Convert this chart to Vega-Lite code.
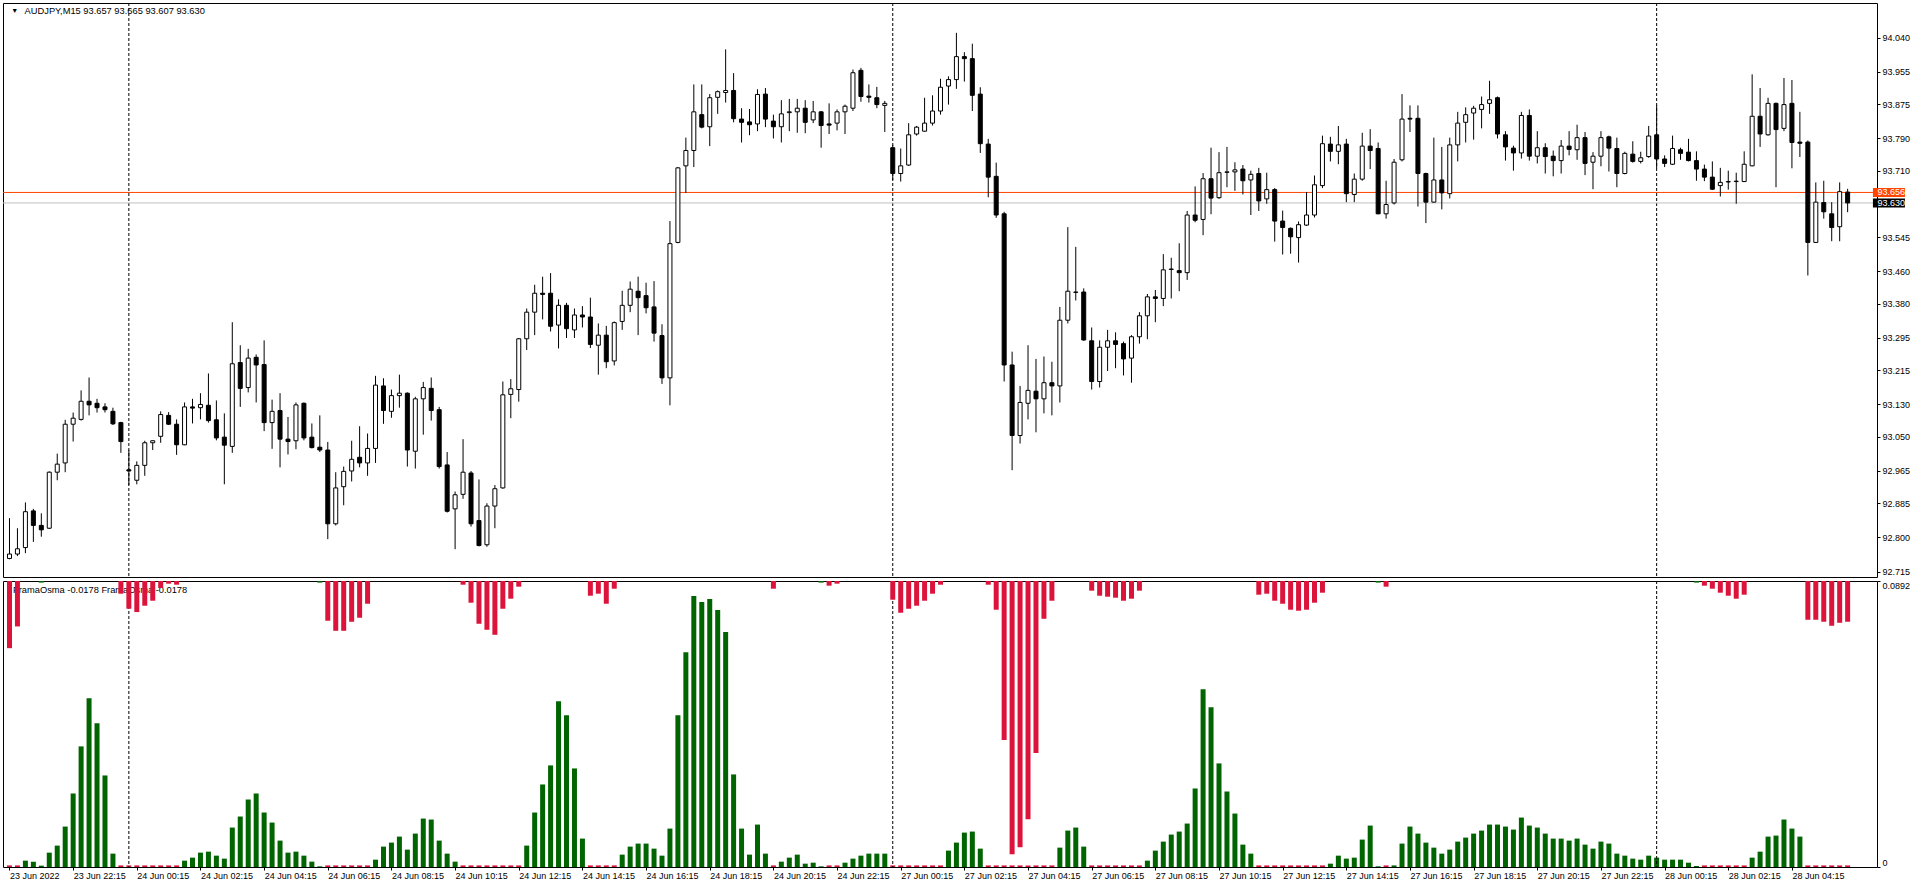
{
"$schema":"https://vega.github.io/schema/vega-lite/v6.json",
"padding":{"left":2,"top":2,"right":0,"bottom":0},
"background":"white",
"spacing":2,
"config":{"view":{"stroke":"#000","strokeWidth":1},"font":"Liberation Sans","axis":{"labelFont":"Liberation Sans","labelColor":"#000","tickColor":"#000","labelOverlap":false,"labelBound":false},"text":{"font":"Liberation Sans"},"tick":{"opacity":1}},
"datasets":{
"seps":[{"i":15},{"i":111},{"i":207}],
"lines":[{"p":93.656,"k":"ask"},{"p":93.630,"k":"bid"}],
"bars":[
{"i":0,"o":92.748,"h":92.848,"l":92.746,"c":92.759,"g":0,"dn":0.02095},
{"i":1,"o":92.759,"h":92.823,"l":92.754,"c":92.772,"g":0,"dn":0.01417},
{"i":2,"o":92.775,"h":92.887,"l":92.761,"c":92.864,"g":0.00198,"dn":0},
{"i":3,"o":92.866,"h":92.871,"l":92.789,"c":92.830,"g":0.00167,"dn":0},
{"i":4,"o":92.830,"h":92.860,"l":92.802,"c":92.819,"g":0.00042,"dn":0},
{"i":5,"o":92.823,"h":92.964,"l":92.821,"c":92.962,"g":0.00448,"dn":0},
{"i":6,"o":92.962,"h":93.008,"l":92.942,"c":92.982,"g":0.00667,"dn":0},
{"i":7,"o":92.985,"h":93.092,"l":92.962,"c":93.081,"g":0.01261,"dn":0},
{"i":8,"o":93.081,"h":93.110,"l":93.038,"c":93.096,"g":0.02293,"dn":0},
{"i":9,"o":93.093,"h":93.165,"l":93.090,"c":93.138,"g":0.03762,"dn":0},
{"i":10,"o":93.138,"h":93.197,"l":93.103,"c":93.129,"g":0.05263,"dn":0},
{"i":11,"o":93.133,"h":93.144,"l":93.110,"c":93.122,"g":0.04481,"dn":0},
{"i":12,"o":93.124,"h":93.133,"l":93.110,"c":93.117,"g":0.02855,"dn":0},
{"i":13,"o":93.113,"h":93.122,"l":93.079,"c":93.082,"g":0.00417,"dn":0},
{"i":14,"o":93.085,"h":93.087,"l":93.010,"c":93.038,"g":0,"dn":0.00396},
{"i":15,"o":92.968,"h":93.017,"l":92.930,"c":92.965,"g":0,"dn":0.00865},
{"i":16,"o":92.942,"h":92.989,"l":92.932,"c":92.979,"g":0,"dn":0.00969},
{"i":17,"o":92.979,"h":93.040,"l":92.953,"c":93.035,"g":0,"dn":0.00771},
{"i":18,"o":93.035,"h":93.041,"l":93.017,"c":93.040,"g":0,"dn":0.00615},
{"i":19,"o":93.051,"h":93.113,"l":93.035,"c":93.105,"g":0,"dn":0.00219},
{"i":20,"o":93.103,"h":93.111,"l":93.079,"c":93.081,"g":0,"dn":0.00083},
{"i":21,"o":93.081,"h":93.093,"l":93.005,"c":93.030,"g":0,"dn":0.00115},
{"i":22,"o":93.030,"h":93.135,"l":93.029,"c":93.124,"g":0.00198,"dn":0},
{"i":23,"o":93.124,"h":93.144,"l":93.083,"c":93.121,"g":0.00292,"dn":0},
{"i":24,"o":93.122,"h":93.158,"l":93.093,"c":93.130,"g":0.00448,"dn":0},
{"i":25,"o":93.128,"h":93.207,"l":93.085,"c":93.090,"g":0.00479,"dn":0},
{"i":26,"o":93.092,"h":93.140,"l":93.041,"c":93.047,"g":0.00354,"dn":0},
{"i":27,"o":93.049,"h":93.108,"l":92.932,"c":93.029,"g":0.00261,"dn":0},
{"i":28,"o":93.026,"h":93.334,"l":93.010,"c":93.231,"g":0.0123,"dn":0},
{"i":29,"o":93.234,"h":93.277,"l":93.124,"c":93.170,"g":0.01574,"dn":0},
{"i":30,"o":93.172,"h":93.268,"l":93.160,"c":93.245,"g":0.02105,"dn":0},
{"i":31,"o":93.247,"h":93.254,"l":93.135,"c":93.228,"g":0.02293,"dn":0},
{"i":32,"o":93.229,"h":93.289,"l":93.064,"c":93.085,"g":0.01699,"dn":0},
{"i":33,"o":93.085,"h":93.142,"l":93.020,"c":93.113,"g":0.01386,"dn":0},
{"i":34,"o":93.115,"h":93.158,"l":92.974,"c":93.044,"g":0.00823,"dn":0},
{"i":35,"o":93.044,"h":93.099,"l":93.006,"c":93.038,"g":0.00448,"dn":0},
{"i":36,"o":93.040,"h":93.135,"l":93.019,"c":93.129,"g":0.00479,"dn":0},
{"i":37,"o":93.133,"h":93.135,"l":93.041,"c":93.047,"g":0.00354,"dn":0},
{"i":38,"o":93.049,"h":93.083,"l":93.021,"c":93.023,"g":0.00167,"dn":0},
{"i":39,"o":93.024,"h":93.103,"l":93.012,"c":93.017,"g":0.00021,"dn":0},
{"i":40,"o":93.017,"h":93.037,"l":92.796,"c":92.834,"g":0,"dn":0.0124},
{"i":41,"o":92.834,"h":92.962,"l":92.830,"c":92.923,"g":0,"dn":0.01553},
{"i":42,"o":92.926,"h":92.976,"l":92.880,"c":92.964,"g":0,"dn":0.01553},
{"i":43,"o":92.965,"h":93.040,"l":92.939,"c":92.994,"g":0,"dn":0.01271},
{"i":44,"o":92.999,"h":93.076,"l":92.974,"c":92.985,"g":0,"dn":0.01146},
{"i":45,"o":92.985,"h":93.058,"l":92.953,"c":93.021,"g":0,"dn":0.00709},
{"i":46,"o":93.021,"h":93.201,"l":92.985,"c":93.178,"g":0.00229,"dn":0},
{"i":47,"o":93.176,"h":93.195,"l":93.082,"c":93.115,"g":0.00636,"dn":0},
{"i":48,"o":93.113,"h":93.167,"l":93.097,"c":93.152,"g":0.00761,"dn":0},
{"i":49,"o":93.152,"h":93.204,"l":93.122,"c":93.158,"g":0.00948,"dn":0},
{"i":50,"o":93.158,"h":93.160,"l":92.976,"c":93.017,"g":0.00542,"dn":0},
{"i":51,"o":93.014,"h":93.149,"l":92.971,"c":93.144,"g":0.01042,"dn":0},
{"i":52,"o":93.144,"h":93.186,"l":93.055,"c":93.172,"g":0.01511,"dn":0},
{"i":53,"o":93.170,"h":93.197,"l":93.090,"c":93.115,"g":0.0148,"dn":0},
{"i":54,"o":93.117,"h":93.124,"l":92.971,"c":92.976,"g":0.00823,"dn":0},
{"i":55,"o":92.980,"h":93.012,"l":92.862,"c":92.865,"g":0.00417,"dn":0},
{"i":56,"o":92.871,"h":92.914,"l":92.771,"c":92.906,"g":0.00167,"dn":0},
{"i":57,"o":92.907,"h":93.044,"l":92.896,"c":92.962,"g":0,"dn":0.00115},
{"i":58,"o":92.960,"h":92.965,"l":92.827,"c":92.834,"g":0,"dn":0.00677},
{"i":59,"o":92.842,"h":92.944,"l":92.778,"c":92.780,"g":0,"dn":0.01334},
{"i":60,"o":92.782,"h":92.885,"l":92.777,"c":92.878,"g":0,"dn":0.01521},
{"i":61,"o":92.878,"h":92.930,"l":92.823,"c":92.921,"g":0,"dn":0.01678},
{"i":62,"o":92.923,"h":93.187,"l":92.921,"c":93.154,"g":0,"dn":0.00865},
{"i":63,"o":93.155,"h":93.193,"l":93.096,"c":93.169,"g":0,"dn":0.00552},
{"i":64,"o":93.167,"h":93.295,"l":93.137,"c":93.293,"g":0,"dn":0.00177},
{"i":65,"o":93.293,"h":93.368,"l":93.265,"c":93.359,"g":0.00667,"dn":0},
{"i":66,"o":93.359,"h":93.427,"l":93.302,"c":93.406,"g":0.01699,"dn":0},
{"i":67,"o":93.406,"h":93.447,"l":93.341,"c":93.403,"g":0.02574,"dn":0},
{"i":68,"o":93.406,"h":93.456,"l":93.311,"c":93.324,"g":0.03168,"dn":0},
{"i":69,"o":93.327,"h":93.391,"l":93.269,"c":93.376,"g":0.05169,"dn":0},
{"i":70,"o":93.376,"h":93.382,"l":93.295,"c":93.318,"g":0.04731,"dn":0},
{"i":71,"o":93.315,"h":93.368,"l":93.295,"c":93.352,"g":0.03074,"dn":0},
{"i":72,"o":93.352,"h":93.374,"l":93.321,"c":93.347,"g":0.00886,"dn":0},
{"i":73,"o":93.347,"h":93.395,"l":93.270,"c":93.279,"g":0,"dn":0.00459},
{"i":74,"o":93.277,"h":93.331,"l":93.204,"c":93.302,"g":0,"dn":0.00396},
{"i":75,"o":93.302,"h":93.325,"l":93.220,"c":93.236,"g":0,"dn":0.00709},
{"i":76,"o":93.238,"h":93.336,"l":93.227,"c":93.333,"g":0,"dn":0.0024},
{"i":77,"o":93.336,"h":93.412,"l":93.315,"c":93.376,"g":0.00386,"dn":0},
{"i":78,"o":93.376,"h":93.435,"l":93.359,"c":93.416,"g":0.00636,"dn":0},
{"i":79,"o":93.411,"h":93.447,"l":93.302,"c":93.395,"g":0.0073,"dn":0},
{"i":80,"o":93.400,"h":93.432,"l":93.356,"c":93.370,"g":0.0073,"dn":0},
{"i":81,"o":93.372,"h":93.436,"l":93.286,"c":93.307,"g":0.00573,"dn":0},
{"i":82,"o":93.301,"h":93.329,"l":93.181,"c":93.196,"g":0.00354,"dn":0},
{"i":83,"o":93.196,"h":93.585,"l":93.128,"c":93.529,"g":0.01198,"dn":0},
{"i":84,"o":93.532,"h":93.719,"l":93.530,"c":93.717,"g":0.04731,"dn":0},
{"i":85,"o":93.722,"h":93.792,"l":93.655,"c":93.760,"g":0.06701,"dn":0},
{"i":86,"o":93.760,"h":93.924,"l":93.719,"c":93.856,"g":0.08451,"dn":0},
{"i":87,"o":93.849,"h":93.924,"l":93.815,"c":93.818,"g":0.08264,"dn":0},
{"i":88,"o":93.819,"h":93.900,"l":93.771,"c":93.891,"g":0.08358,"dn":0},
{"i":89,"o":93.892,"h":93.909,"l":93.851,"c":93.906,"g":0.08014,"dn":0},
{"i":90,"o":93.904,"h":94.011,"l":93.879,"c":93.909,"g":0.07326,"dn":0},
{"i":91,"o":93.909,"h":93.952,"l":93.830,"c":93.839,"g":0.02887,"dn":0},
{"i":92,"o":93.838,"h":93.865,"l":93.780,"c":93.830,"g":0.01198,"dn":0},
{"i":93,"o":93.831,"h":93.863,"l":93.798,"c":93.824,"g":0.00386,"dn":0},
{"i":94,"o":93.826,"h":93.912,"l":93.808,"c":93.899,"g":0.01323,"dn":0},
{"i":95,"o":93.900,"h":93.915,"l":93.818,"c":93.838,"g":0.00417,"dn":0},
{"i":96,"o":93.833,"h":93.849,"l":93.790,"c":93.819,"g":0,"dn":0.0024},
{"i":97,"o":93.819,"h":93.885,"l":93.780,"c":93.851,"g":0.00167,"dn":0},
{"i":98,"o":93.854,"h":93.888,"l":93.808,"c":93.856,"g":0.00292,"dn":0},
{"i":99,"o":93.856,"h":93.888,"l":93.804,"c":93.865,"g":0.00386,"dn":0},
{"i":100,"o":93.865,"h":93.885,"l":93.803,"c":93.830,"g":0.00104,"dn":0},
{"i":101,"o":93.836,"h":93.883,"l":93.828,"c":93.856,"g":0.00135,"dn":0},
{"i":102,"o":93.856,"h":93.858,"l":93.767,"c":93.822,"g":0.00021,"dn":0},
{"i":103,"o":93.826,"h":93.877,"l":93.801,"c":93.823,"g":0,"dn":0.00146},
{"i":104,"o":93.828,"h":93.862,"l":93.810,"c":93.856,"g":0,"dn":0.00083},
{"i":105,"o":93.856,"h":93.874,"l":93.801,"c":93.870,"g":0.00135,"dn":0},
{"i":106,"o":93.865,"h":93.961,"l":93.858,"c":93.953,"g":0.00261,"dn":0},
{"i":107,"o":93.959,"h":93.965,"l":93.881,"c":93.894,"g":0.00354,"dn":0},
{"i":108,"o":93.895,"h":93.924,"l":93.879,"c":93.892,"g":0.00417,"dn":0},
{"i":109,"o":93.891,"h":93.918,"l":93.865,"c":93.874,"g":0.00417,"dn":0},
{"i":110,"o":93.872,"h":93.883,"l":93.806,"c":93.877,"g":0.00417,"dn":0},
{"i":111,"o":93.767,"h":93.774,"l":93.687,"c":93.703,"g":0,"dn":0.00584},
{"i":112,"o":93.703,"h":93.765,"l":93.683,"c":93.722,"g":0,"dn":0.0099},
{"i":113,"o":93.724,"h":93.828,"l":93.722,"c":93.799,"g":0,"dn":0.00865},
{"i":114,"o":93.801,"h":93.821,"l":93.797,"c":93.818,"g":0,"dn":0.00771},
{"i":115,"o":93.808,"h":93.891,"l":93.807,"c":93.828,"g":0,"dn":0.00615},
{"i":116,"o":93.828,"h":93.897,"l":93.822,"c":93.858,"g":0,"dn":0.00396},
{"i":117,"o":93.858,"h":93.938,"l":93.849,"c":93.917,"g":0,"dn":0.00115},
{"i":118,"o":93.920,"h":93.944,"l":93.874,"c":93.936,"g":0.00511,"dn":0},
{"i":119,"o":93.936,"h":94.052,"l":93.913,"c":93.993,"g":0.00761,"dn":0},
{"i":120,"o":93.993,"h":94.004,"l":93.931,"c":93.988,"g":0.01073,"dn":0},
{"i":121,"o":93.988,"h":94.025,"l":93.858,"c":93.897,"g":0.01105,"dn":0},
{"i":122,"o":93.900,"h":93.917,"l":93.754,"c":93.777,"g":0.00573,"dn":0},
{"i":123,"o":93.776,"h":93.789,"l":93.644,"c":93.694,"g":0,"dn":0.00115},
{"i":124,"o":93.696,"h":93.730,"l":93.593,"c":93.600,"g":0,"dn":0.00896},
{"i":125,"o":93.603,"h":93.608,"l":93.187,"c":93.228,"g":0,"dn":0.0496},
{"i":126,"o":93.228,"h":93.261,"l":92.967,"c":93.053,"g":0,"dn":0.08524},
{"i":127,"o":93.053,"h":93.176,"l":93.033,"c":93.135,"g":0,"dn":0.08306},
{"i":128,"o":93.133,"h":93.277,"l":93.093,"c":93.165,"g":0,"dn":0.0743},
{"i":129,"o":93.163,"h":93.243,"l":93.061,"c":93.144,"g":0,"dn":0.05367},
{"i":130,"o":93.144,"h":93.249,"l":93.108,"c":93.184,"g":0,"dn":0.01178},
{"i":131,"o":93.184,"h":93.236,"l":93.103,"c":93.176,"g":0,"dn":0.00615},
{"i":132,"o":93.176,"h":93.372,"l":93.135,"c":93.339,"g":0.00604,"dn":0},
{"i":133,"o":93.339,"h":93.570,"l":93.331,"c":93.411,"g":0.01136,"dn":0},
{"i":134,"o":93.408,"h":93.521,"l":93.388,"c":93.409,"g":0.0123,"dn":0},
{"i":135,"o":93.409,"h":93.418,"l":93.288,"c":93.290,"g":0.00636,"dn":0},
{"i":136,"o":93.288,"h":93.321,"l":93.167,"c":93.187,"g":0,"dn":0.00302},
{"i":137,"o":93.187,"h":93.289,"l":93.172,"c":93.272,"g":0,"dn":0.00459},
{"i":138,"o":93.272,"h":93.315,"l":93.213,"c":93.288,"g":0,"dn":0.0049},
{"i":139,"o":93.288,"h":93.309,"l":93.220,"c":93.279,"g":0,"dn":0.00521},
{"i":140,"o":93.281,"h":93.286,"l":93.202,"c":93.243,"g":0,"dn":0.00615},
{"i":141,"o":93.245,"h":93.302,"l":93.184,"c":93.298,"g":0,"dn":0.00552},
{"i":142,"o":93.298,"h":93.359,"l":93.281,"c":93.350,"g":0,"dn":0.00302},
{"i":143,"o":93.350,"h":93.404,"l":93.292,"c":93.397,"g":0.00198,"dn":0},
{"i":144,"o":93.397,"h":93.414,"l":93.334,"c":93.393,"g":0.00511,"dn":0},
{"i":145,"o":93.393,"h":93.503,"l":93.374,"c":93.464,"g":0.00792,"dn":0},
{"i":146,"o":93.465,"h":93.494,"l":93.393,"c":93.466,"g":0.01011,"dn":0},
{"i":147,"o":93.462,"h":93.530,"l":93.411,"c":93.457,"g":0.01105,"dn":0},
{"i":148,"o":93.457,"h":93.610,"l":93.439,"c":93.600,"g":0.01355,"dn":0},
{"i":149,"o":93.600,"h":93.671,"l":93.582,"c":93.587,"g":0.02449,"dn":0},
{"i":150,"o":93.589,"h":93.704,"l":93.550,"c":93.690,"g":0.05544,"dn":0},
{"i":151,"o":93.690,"h":93.767,"l":93.602,"c":93.642,"g":0.04981,"dn":0},
{"i":152,"o":93.643,"h":93.756,"l":93.640,"c":93.705,"g":0.03231,"dn":0},
{"i":153,"o":93.706,"h":93.769,"l":93.669,"c":93.707,"g":0.02355,"dn":0},
{"i":154,"o":93.707,"h":93.731,"l":93.660,"c":93.712,"g":0.01667,"dn":0},
{"i":155,"o":93.714,"h":93.724,"l":93.651,"c":93.685,"g":0.00698,"dn":0},
{"i":156,"o":93.687,"h":93.710,"l":93.600,"c":93.701,"g":0.00417,"dn":0},
{"i":157,"o":93.703,"h":93.717,"l":93.610,"c":93.635,"g":0,"dn":0.00427},
{"i":158,"o":93.640,"h":93.705,"l":93.628,"c":93.663,"g":0,"dn":0.00396},
{"i":159,"o":93.663,"h":93.667,"l":93.534,"c":93.585,"g":0,"dn":0.00615},
{"i":160,"o":93.585,"h":93.611,"l":93.502,"c":93.569,"g":0,"dn":0.00709},
{"i":161,"o":93.567,"h":93.569,"l":93.504,"c":93.546,"g":0,"dn":0.00896},
{"i":162,"o":93.544,"h":93.584,"l":93.482,"c":93.576,"g":0,"dn":0.00927},
{"i":163,"o":93.575,"h":93.657,"l":93.573,"c":93.600,"g":0,"dn":0.00896},
{"i":164,"o":93.600,"h":93.698,"l":93.594,"c":93.675,"g":0,"dn":0.00677},
{"i":165,"o":93.673,"h":93.797,"l":93.667,"c":93.777,"g":0,"dn":0.00365},
{"i":166,"o":93.776,"h":93.794,"l":93.733,"c":93.758,"g":0.00104,"dn":0},
{"i":167,"o":93.758,"h":93.821,"l":93.726,"c":93.774,"g":0.00354,"dn":0},
{"i":168,"o":93.776,"h":93.789,"l":93.632,"c":93.653,"g":0.00261,"dn":0},
{"i":169,"o":93.651,"h":93.703,"l":93.632,"c":93.689,"g":0.00292,"dn":0},
{"i":170,"o":93.689,"h":93.804,"l":93.685,"c":93.771,"g":0.00855,"dn":0},
{"i":171,"o":93.771,"h":93.813,"l":93.714,"c":93.760,"g":0.01292,"dn":0},
{"i":172,"o":93.765,"h":93.780,"l":93.602,"c":93.603,"g":0.00021,"dn":0},
{"i":173,"o":93.603,"h":93.685,"l":93.591,"c":93.626,"g":0,"dn":0.00177},
{"i":174,"o":93.630,"h":93.739,"l":93.626,"c":93.731,"g":0.0005,"dn":0},
{"i":175,"o":93.737,"h":93.900,"l":93.733,"c":93.838,"g":0.0073,"dn":0},
{"i":176,"o":93.840,"h":93.872,"l":93.806,"c":93.838,"g":0.01261,"dn":0},
{"i":177,"o":93.840,"h":93.872,"l":93.621,"c":93.703,"g":0.01042,"dn":0},
{"i":178,"o":93.703,"h":93.705,"l":93.580,"c":93.632,"g":0.00761,"dn":0},
{"i":179,"o":93.632,"h":93.792,"l":93.631,"c":93.687,"g":0.00604,"dn":0},
{"i":180,"o":93.687,"h":93.769,"l":93.614,"c":93.655,"g":0.00417,"dn":0},
{"i":181,"o":93.653,"h":93.792,"l":93.641,"c":93.774,"g":0.00542,"dn":0},
{"i":182,"o":93.774,"h":93.856,"l":93.733,"c":93.828,"g":0.00792,"dn":0},
{"i":183,"o":93.830,"h":93.867,"l":93.780,"c":93.849,"g":0.00917,"dn":0},
{"i":184,"o":93.853,"h":93.871,"l":93.787,"c":93.865,"g":0.01042,"dn":0},
{"i":185,"o":93.862,"h":93.894,"l":93.815,"c":93.874,"g":0.01136,"dn":0},
{"i":186,"o":93.877,"h":93.933,"l":93.851,"c":93.886,"g":0.01323,"dn":0},
{"i":187,"o":93.891,"h":93.894,"l":93.790,"c":93.801,"g":0.01323,"dn":0},
{"i":188,"o":93.799,"h":93.808,"l":93.735,"c":93.769,"g":0.01261,"dn":0},
{"i":189,"o":93.766,"h":93.772,"l":93.710,"c":93.754,"g":0.01167,"dn":0},
{"i":190,"o":93.754,"h":93.856,"l":93.740,"c":93.847,"g":0.01542,"dn":0},
{"i":191,"o":93.847,"h":93.862,"l":93.735,"c":93.746,"g":0.01292,"dn":0},
{"i":192,"o":93.746,"h":93.808,"l":93.728,"c":93.767,"g":0.0123,"dn":0},
{"i":193,"o":93.767,"h":93.778,"l":93.703,"c":93.745,"g":0.01042,"dn":0},
{"i":194,"o":93.746,"h":93.760,"l":93.696,"c":93.735,"g":0.00886,"dn":0},
{"i":195,"o":93.735,"h":93.786,"l":93.703,"c":93.771,"g":0.00886,"dn":0},
{"i":196,"o":93.771,"h":93.808,"l":93.748,"c":93.763,"g":0.00823,"dn":0},
{"i":197,"o":93.762,"h":93.824,"l":93.737,"c":93.792,"g":0.00886,"dn":0},
{"i":198,"o":93.792,"h":93.806,"l":93.699,"c":93.728,"g":0.00698,"dn":0},
{"i":199,"o":93.731,"h":93.756,"l":93.664,"c":93.746,"g":0.00573,"dn":0},
{"i":200,"o":93.746,"h":93.808,"l":93.721,"c":93.792,"g":0.00792,"dn":0},
{"i":201,"o":93.794,"h":93.797,"l":93.708,"c":93.766,"g":0.0073,"dn":0},
{"i":202,"o":93.765,"h":93.792,"l":93.669,"c":93.703,"g":0.00417,"dn":0},
{"i":203,"o":93.703,"h":93.757,"l":93.701,"c":93.753,"g":0.00354,"dn":0},
{"i":204,"o":93.751,"h":93.783,"l":93.730,"c":93.733,"g":0.00261,"dn":0},
{"i":205,"o":93.733,"h":93.757,"l":93.728,"c":93.742,"g":0.00229,"dn":0},
{"i":206,"o":93.745,"h":93.821,"l":93.742,"c":93.796,"g":0.00354,"dn":0},
{"i":207,"o":93.799,"h":93.872,"l":93.716,"c":93.739,"g":0.00292,"dn":0},
{"i":208,"o":93.739,"h":93.748,"l":93.719,"c":93.728,"g":0.00229,"dn":0},
{"i":209,"o":93.726,"h":93.797,"l":93.724,"c":93.765,"g":0.00229,"dn":0},
{"i":210,"o":93.762,"h":93.767,"l":93.737,"c":93.753,"g":0.00229,"dn":0},
{"i":211,"o":93.756,"h":93.789,"l":93.733,"c":93.735,"g":0.00135,"dn":0},
{"i":212,"o":93.735,"h":93.758,"l":93.685,"c":93.714,"g":0.00031,"dn":0},
{"i":213,"o":93.714,"h":93.725,"l":93.684,"c":93.694,"g":0,"dn":0.00146},
{"i":214,"o":93.694,"h":93.733,"l":93.662,"c":93.664,"g":0,"dn":0.0024},
{"i":215,"o":93.673,"h":93.717,"l":93.646,"c":93.681,"g":0,"dn":0.00365},
{"i":216,"o":93.682,"h":93.710,"l":93.663,"c":93.683,"g":0,"dn":0.00459},
{"i":217,"o":93.683,"h":93.705,"l":93.628,"c":93.684,"g":0,"dn":0.00552},
{"i":218,"o":93.683,"h":93.758,"l":93.682,"c":93.726,"g":0,"dn":0.00427},
{"i":219,"o":93.722,"h":93.949,"l":93.721,"c":93.845,"g":0.00292,"dn":0},
{"i":220,"o":93.845,"h":93.915,"l":93.769,"c":93.801,"g":0.00479,"dn":0},
{"i":221,"o":93.799,"h":93.891,"l":93.797,"c":93.877,"g":0.00948,"dn":0},
{"i":222,"o":93.877,"h":93.879,"l":93.669,"c":93.812,"g":0.0098,"dn":0},
{"i":223,"o":93.815,"h":93.940,"l":93.808,"c":93.874,"g":0.0148,"dn":0},
{"i":224,"o":93.877,"h":93.935,"l":93.716,"c":93.780,"g":0.01198,"dn":0},
{"i":225,"o":93.781,"h":93.856,"l":93.744,"c":93.778,"g":0.00948,"dn":0},
{"i":226,"o":93.781,"h":93.785,"l":93.450,"c":93.532,"g":0,"dn":0.01209},
{"i":227,"o":93.532,"h":93.681,"l":93.531,"c":93.632,"g":0,"dn":0.01209},
{"i":228,"o":93.631,"h":93.685,"l":93.591,"c":93.608,"g":0,"dn":0.01271},
{"i":229,"o":93.603,"h":93.632,"l":93.535,"c":93.569,"g":0,"dn":0.01396},
{"i":230,"o":93.571,"h":93.681,"l":93.535,"c":93.658,"g":0,"dn":0.01303},
{"i":231,"o":93.657,"h":93.665,"l":93.607,"c":93.630,"g":0,"dn":0.01271}
]},
"vconcat":[
{"width":1874,"height":574,
 "resolve":{"axis":{"y":"independent"}},
 "layer":[
  {"data":{"name":"seps"},"mark":{"type":"rule","color":"#000","strokeWidth":1,"strokeDash":[3,2]},
   "encoding":{"x":{"field":"i","type":"quantitative","scale":{"domain":[-0.1875,234.0625],"nice":false,"zero":false},"axis":null}}},
  {"data":{"name":"lines"},"mark":{"type":"rule","strokeWidth":1},
   "encoding":{"y":{"field":"p","type":"quantitative","title":null,"scale":{"domain":[92.702,94.126],"nice":false,"zero":false},
     "axis":{"orient":"right","values":[94.04,93.955,93.875,93.79,93.71,93.545,93.46,93.38,93.295,93.215,93.13,93.05,92.965,92.885,92.8,92.715],"format":".3f","domain":false,"grid":false,"tickSize":3,"labelPadding":2,"labelFontSize":9,"labelOverlap":false,"labelFlush":false,"labelBound":false,"labelSeparation":0,"title":null}},
    "color":{"condition":{"test":"datum.k == 'ask'","value":"#FF4500"},"value":"#C0C0C0"}}},
  {"data":{"name":"bars"},"mark":{"type":"rule","color":"#000","strokeWidth":1,"clip":true},
   "encoding":{"x":{"field":"i","type":"quantitative"},"y":{"field":"l","type":"quantitative","title":null,"axis":null},"y2":{"field":"h"}}},
  {"data":{"name":"bars"},"mark":{"type":"bar","size":4,"stroke":"#000","strokeWidth":1,"clip":true},
   "encoding":{"x":{"field":"i","type":"quantitative"},"y":{"field":"o","type":"quantitative","title":null,"axis":null},"y2":{"field":"c"},
    "fill":{"condition":{"test":"datum.c < datum.o","value":"#000"},"value":"#fff"}}},
  {"data":{"name":"lines"},"mark":{"type":"tick","orient":"horizontal","thickness":9,"size":32,"opacity":1},
   "encoding":{"x":{"datum":236.19,"type":"quantitative"},"y":{"field":"p","type":"quantitative","title":null,"axis":null},
    "color":{"condition":{"test":"datum.k == 'ask'","value":"#FF4500"},"value":"#000000"}}},
  {"data":{"name":"lines"},"mark":{"type":"text","align":"left","baseline":"middle","fontSize":9,"color":"#fff"},
   "encoding":{"x":{"datum":234.75,"type":"quantitative"},"y":{"field":"p","type":"quantitative","title":null,"axis":null},"text":{"field":"p","type":"quantitative","format":".3f"}}},
  {"data":{"values":[{"t":"▼"}]},"mark":{"type":"text","align":"center","baseline":"middle","fontSize":7,"color":"#000","dy":8},
   "encoding":{"x":{"datum":0.65,"type":"quantitative"},"y":{"datum":94.126,"type":"quantitative","axis":null},"text":{"field":"t"}}},
  {"data":{"values":[{"t":"AUDJPY,M15  93.657 93.665 93.607 93.630"}]},"mark":{"type":"text","align":"left","baseline":"middle","fontSize":9.3,"color":"#000","dy":8},
   "encoding":{"x":{"datum":1.90,"type":"quantitative"},"y":{"datum":94.126,"type":"quantitative","axis":null},"text":{"field":"t"}}}
 ]},
{"width":1874,"height":286,
 "layer":[
  {"layer":[
   {"data":{"name":"bars"},"transform":[{"filter":"datum.g > 0"}],"mark":{"type":"bar","size":5,"color":"#006400","clip":true},
    "encoding":{"x":{"field":"i","type":"quantitative","scale":{"domain":[-0.1875,234.0625],"nice":false,"zero":false},
      "axis":{"orient":"bottom","values":[0,8,16,24,32,40,48,56,64,72,80,88,96,104,112,120,128,136,144,152,160,168,176,184,192,200,208,216,224],
       "labelExpr":"['23 Jun 2022','23 Jun 22:15','24 Jun 00:15','24 Jun 02:15','24 Jun 04:15','24 Jun 06:15','24 Jun 08:15','24 Jun 10:15','24 Jun 12:15','24 Jun 14:15','24 Jun 16:15','24 Jun 18:15','24 Jun 20:15','24 Jun 22:15','27 Jun 00:15','27 Jun 02:15','27 Jun 04:15','27 Jun 06:15','27 Jun 08:15','27 Jun 10:15','27 Jun 12:15','27 Jun 14:15','27 Jun 16:15','27 Jun 18:15','27 Jun 20:15','27 Jun 22:15','28 Jun 00:15','28 Jun 02:15','28 Jun 04:15'][round(datum.value/8)]",
       "domain":false,"grid":false,"tickSize":3,"labelAlign":"left","labelPadding":1,"labelFontSize":9,"labelOverlap":false,"labelFlush":false,"labelBound":false,"title":null}},
     "y":{"field":"g","type":"quantitative","title":null,"scale":{"domain":[0,0.0892],"nice":false,"zero":false},
      "axis":{"orient":"right","values":[0,0.0892],"labelExpr":"datum.value == 0 ? '0' : '0.0892'","labelFlush":true,"domain":false,"grid":false,"tickSize":3,"labelPadding":2,"labelFontSize":9,"title":null}},
     "y2":{"datum":0}}},
   {"data":{"name":"bars"},"transform":[{"filter":"datum.g == 0"}],"mark":{"type":"bar","size":5,"color":"#DC143C","clip":true},
    "encoding":{"x":{"field":"i","type":"quantitative"},"y":{"datum":0.0005,"type":"quantitative"},"y2":{"datum":0}}},
   {"data":{"values":[{"t":"FramaOsma -0.0178  FramaOsma -0.0178"}]},"mark":{"type":"text","align":"left","baseline":"middle","fontSize":9.3,"color":"#000","dy":9},
    "encoding":{"x":{"datum":0.45,"type":"quantitative"},"y":{"datum":0.0892,"type":"quantitative"},"text":{"field":"t"}}},
   {"data":{"name":"seps"},"mark":{"type":"rule","color":"#000","strokeWidth":1,"strokeDash":[3,2]},
    "encoding":{"x":{"field":"i","type":"quantitative"}}}
  ]},
  {"layer":[
   {"data":{"name":"bars"},"transform":[{"filter":"datum.dn > 0"}],"mark":{"type":"bar","size":5,"color":"#DC143C","clip":true},
    "encoding":{"x":{"field":"i","type":"quantitative"},"y":{"field":"dn","type":"quantitative","title":null,"scale":{"domain":[0,0.0892],"reverse":true,"nice":false,"zero":false},"axis":null},"y2":{"datum":0}}},
   {"data":{"name":"bars"},"transform":[{"filter":"datum.g > 0 && datum.g < 0.0005"}],"mark":{"type":"bar","size":5,"color":"#006400","clip":true},
    "encoding":{"x":{"field":"i","type":"quantitative"},"y":{"datum":0.0005,"type":"quantitative"},"y2":{"datum":0}}}
  ]}
 ],
 "resolve":{"scale":{"y":"independent"}}}
]
}
